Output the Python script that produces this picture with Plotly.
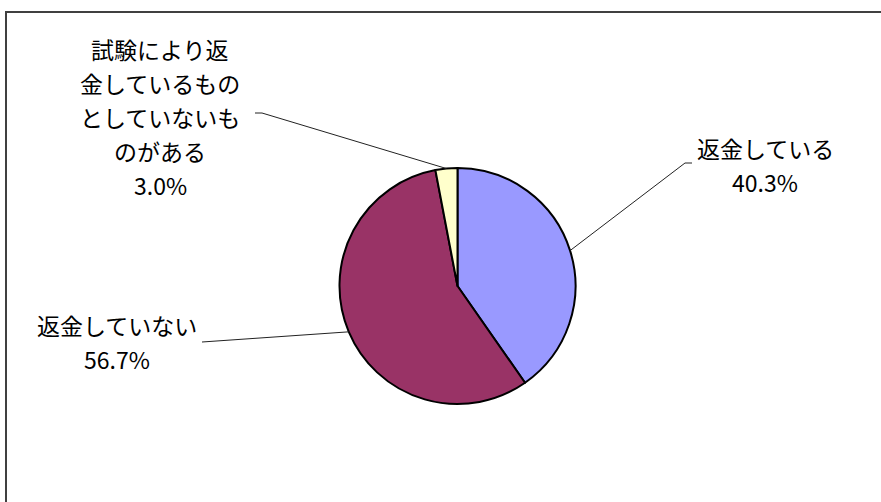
import math
import plotly.graph_objects as go

# ---- data ----
labels = ["返金している", "返金していない", "試験により返金しているものとしていないものがある"]
values = [40.3, 56.7, 3.0]
pct_text = ["40.3%", "56.7%", "3.0%"]
label_lines = [
    ["返金している"],
    ["返金していない"],
    ["試験により返", "金しているもの", "としていないも", "のがある"],
]
colors = ["#9999FF", "#993366", "#FFFFCC"]

# ---- layout (pixels) ----
W, H = 881, 502
cx, cy, R = 457.5, 286, 118
FONT = "Noto Sans CJK JP, Noto Sans, sans-serif"
FS = 23
LH = 34

def px(x):
    return x / W

def py(y):
    return 1 - y / H

fig = go.Figure(go.Pie(
    labels=labels, values=values, sort=False, direction="clockwise", rotation=0,
    marker=dict(colors=colors, line=dict(color="black", width=2)),
    textinfo="none", hoverinfo="label+percent", showlegend=False,
    domain=dict(x=[px(cx - R), px(cx + R)], y=[py(cy + R), py(cy - R)]),
))

# label placements: (text center x, first-line center y, elbow point, end point)
placements = [
    dict(tx=765, ty=148, elbow=(685, 163), end=(692, 163)),
    dict(tx=117, ty=325, elbow=(202, 342), end=(202, 342)),
    dict(tx=160, ty=49, elbow=(262, 113), end=(255, 113)),
]

total = sum(values)
cum = 0.0
shapes = [dict(type="rect", xref="paper", yref="paper",
               x0=px(6), y0=-0.05, x1=1.05, y1=py(12),
               line=dict(color="#404040", width=2), fillcolor="rgba(0,0,0,0)")]
annotations = []
for i, v in enumerate(values):
    mid = (cum + v / 2) / total * 2 * math.pi
    cum += v
    sx = cx + R * math.sin(mid)
    sy = cy - R * math.cos(mid)
    p = placements[i]
    ex, ey = p["elbow"]
    fx, fy = p["end"]
    shapes.append(dict(type="path", xref="paper", yref="paper",
                       path=f"M {px(sx)} {py(sy)} L {px(ex)} {py(ey)} L {px(fx)} {py(fy)}",
                       line=dict(color="#222222", width=1)))
    lines = label_lines[i] + [pct_text[i]]
    for j, t in enumerate(lines):
        annotations.append(dict(text=t, x=px(p["tx"]), y=py(p["ty"] + j * LH),
                                xref="paper", yref="paper", showarrow=False,
                                xanchor="center", yanchor="middle",
                                font=dict(family=FONT, size=FS, color="black")))

fig.update_layout(
    width=W, height=H, margin=dict(l=0, r=0, t=0, b=0),
    paper_bgcolor="white", plot_bgcolor="white",
    shapes=shapes, annotations=annotations,
)

fig.write_html("out.html", config={"displayModeBar": False},
               post_script="document.body.style.margin='0';document.body.style.overflow='hidden';")
